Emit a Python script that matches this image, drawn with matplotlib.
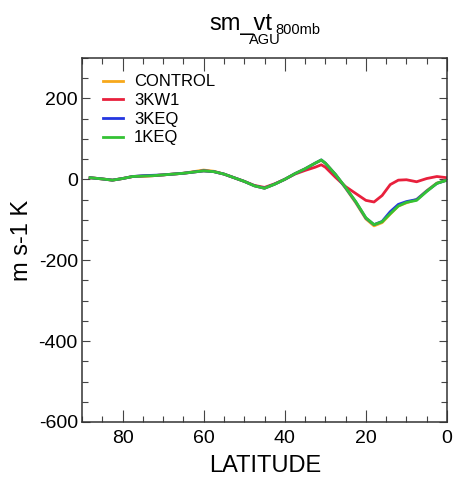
import matplotlib
matplotlib.use('Agg')
import matplotlib.pyplot as plt
from matplotlib.ticker import MultipleLocator

plt.rcParams['font.family'] = ['Liberation Sans', 'DejaVu Sans']
plt.rcParams['axes.unicode_minus'] = False

# latitude (deg N) and the smoothed 800mb v'T' for each run
latitude = [88, 85, 82.5, 80, 77.5, 75, 72.5, 70, 67.5, 65, 62.5, 60, 57.5, 55,
            52.5, 50, 47.5, 45, 42.5, 40, 37.5, 35, 32.5, 31, 30, 27.5, 25,
            22.5, 20, 18, 16, 14, 12, 10, 7.5, 5, 2.5, 0]

control = [4, 1, -2, 2, 7, 8, 9, 11, 13, 15, 19, 23, 20, 13, 4, -5, -16, -22,
           -12, 0, 14, 26, 40, 47, 40, 12, -22, -58, -98, -115, -107, -86,
           -66, -58, -50, -28, -9, -2]
kw1 = [4, 1, -2, 2, 7, 8, 9, 11, 13, 15, 18, 21, 19, 13, 4, -5, -15, -20,
       -11, 0, 13, 22, 30, 36, 30, 5, -18, -35, -52, -56, -40, -13, -2, -1,
       -6, 2, 7, 4]
keq3 = [4, 1, -2, 2, 7, 9, 10, 11, 13, 15, 18, 21, 19, 13, 4, -5, -16, -22,
        -12, 0, 14, 26, 40, 48, 40, 12, -21, -56, -96, -112, -104, -80, -62,
        -55, -50, -29, -10, -2]
keq1 = [4, 1, -2, 2, 7, 8, 9, 11, 13, 15, 18, 21, 19, 13, 4, -5, -16, -22,
        -12, 0, 14, 26, 40, 48, 40, 12, -20, -55, -95, -112, -105, -85, -66,
        -57, -52, -30, -10, -2]

series = [('CONTROL', control, '#f7a81b'),
          ('3KW1', kw1, '#e8203c'),
          ('3KEQ', keq3, '#2436e0'),
          ('1KEQ', keq1, '#34c234')]

fig = plt.figure(figsize=(4.54, 4.83), dpi=100)
ax = fig.add_axes([0.1806, 0.1263, 0.804, 0.7536])

for name, vals, col in series:
    ax.plot(latitude, vals, color=col, lw=2.0, label=name)

ax.set_xlim(90, 0)
ax.set_ylim(-600, 300)
ax.xaxis.set_major_locator(MultipleLocator(20))
ax.xaxis.set_minor_locator(MultipleLocator(5))
ax.yaxis.set_major_locator(MultipleLocator(200))
ax.yaxis.set_minor_locator(MultipleLocator(50))

ax.tick_params(axis='both', which='both', direction='in', top=True, right=True,
               labelsize=14, width=0.8, color='#444444')
ax.tick_params(axis='x', which='major', length=9, pad=6)
ax.tick_params(axis='x', which='minor', length=4.5)
ax.tick_params(axis='y', which='major', length=6, pad=3)
ax.tick_params(axis='y', which='minor', length=4)
for sp in ax.spines.values():
    sp.set_linewidth(1.1)
    sp.set_color('#333333')

ax.set_xlabel('LATITUDE', fontsize=17)
ax.set_ylabel('m s-1 K', fontsize=17)
ax.xaxis.set_label_coords(0.501, -0.09)
ax.yaxis.set_label_coords(-0.134, 0.5)

ax.legend(loc='upper left', bbox_to_anchor=(0.058, 0.955), frameon=False,
          fontsize=12, handlelength=1.2, handletextpad=0.65,
          labelspacing=0.22, borderpad=0, borderaxespad=0)

# title: sm_vt with 800mb subscript and AGU underneath
fig.text(0.531, 0.938, 'sm_vt', fontsize=17, ha='center', va='baseline')
fig.text(0.606, 0.929, '800mb', fontsize=10.5, ha='left', va='baseline')
fig.text(0.584, 0.908, 'AGU', fontsize=10.5, ha='center', va='baseline')

fig.savefig('out.png', dpi=100)
